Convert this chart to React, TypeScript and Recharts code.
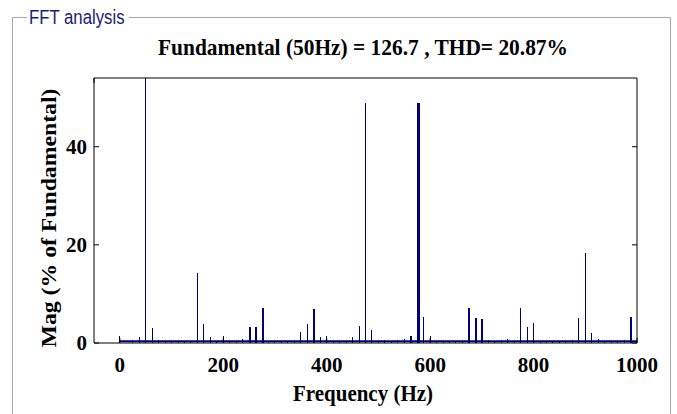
import React from 'react';
import { BarChart, Bar, XAxis, YAxis, ReferenceLine } from 'recharts';

// Spectrum bins (Hz, % of fundamental)
const frequencies = [
  0, 25, 37.5, 50, 62.5, 75, 87.5, 100, 112.5, 125, 137.5,
  150, 162.5, 175, 187.5, 200, 212.5, 225, 237.5,
  250, 252, 262.5, 264.5, 275, 277, 287.5, 300, 312.5, 325, 337.5,
  350, 362.5, 375, 377, 387.5, 400, 412.5, 425, 437.5,
  450, 462.5, 475, 487.5, 500, 512.5, 525, 537.5,
  550, 562.5, 564.5, 575, 577, 579, 587.5, 600, 612.5, 625, 637.5, 650, 662.5,
  675, 677, 687.5, 689.5, 700, 702, 712.5, 725, 737.5,
  750, 762.5, 775, 787.5, 800, 812.5, 825, 837.5, 850, 862.5, 875,
  887.5, 900, 912.5, 925, 937.5, 950, 962.5, 975, 987.5, 989.5, 1000,
];
const magnitudes = [
  1.4, 0.6, 1.2, 100, 3.0, 0.6, 0.5, 0.5, 0.4, 0.5, 0.4,
  14.2, 3.8, 1.2, 0.5, 1.4, 0.5, 0.4, 0.9,
  3.3, 3.3, 3.3, 3.3, 7.2, 7.2, 0.5, 0.4, 0.4, 0.5, 0.4,
  2.3, 3.8, 6.9, 6.9, 1.2, 1.4, 0.5, 0.4, 0.5,
  1.2, 3.5, 49.0, 2.6, 0.5, 0.6, 0.5, 0.6,
  0.8, 1.4, 1.4, 49.0, 49.0, 49.0, 5.4, 1.4, 0.4, 0.5, 0.4, 0.5, 0.4,
  7.2, 7.2, 5.0, 5.0, 4.8, 4.8, 0.6, 0.5, 0.6,
  0.8, 0.4, 7.2, 3.3, 4.1, 0.4, 0.5, 0.4, 0.4, 0.5, 0.6,
  5.0, 18.4, 2.0, 0.8, 0.4, 0.5, 0.4, 0.6, 5.4, 5.4, 0.4,
];
const noiseFloor = 0.35;

const xTicks = [0, 200, 400, 600, 800, 1000];
const yTicks = [0, 20, 40];
const xDomain = [-50, 1000];
const yDomain = [0, 54];

const title = 'Fundamental (50Hz) = 126.7 , THD= 20.87%';
const panelTitle = 'FFT analysis';
const xLabel = 'Frequency (Hz)';
const yLabel = 'Mag (% of Fundamental)';

const data = frequencies.map((f, i) => ({ f, mag: magnitudes[i] }));

const NAVY = '#00007f';
const SERIF = '"Liberation Serif", "Times New Roman", serif';

const tickStyle = { fontFamily: SERIF, fontWeight: 700, fontSize: 21, fill: '#000' };

const SpikeShape = (props: any) => {
  const { x, y, width, height } = props;
  if (!height || height <= 0) return null;
  const cx = x + width / 2;
  return <rect x={Math.round(cx - 0.5)} y={y} width={1} height={height} fill={NAVY} shapeRendering="crispEdges" />;
};

export default function App() {
  return (
    <div style={{ position: 'absolute', left: 0, top: 0, width: 677, height: 414, background: '#fff', overflow: 'hidden' }}>
      <svg width={677} height={414} style={{ position: 'absolute', left: 0, top: 0 }}>
        <line x1={12.5} y1={17.5} x2={27} y2={17.5} stroke="#a8a8a8" />
        <line x1={129} y1={17.5} x2={670.5} y2={17.5} stroke="#a8a8a8" />
        <line x1={12.5} y1={17.5} x2={12.5} y2={414} stroke="#a8a8a8" />
        <line x1={670.5} y1={17.5} x2={670.5} y2={414} stroke="#a8a8a8" />
        <text x={29} y={24} fill="#1c1c78" fontFamily='"Liberation Sans", Arial, sans-serif' fontSize={19.5}
          transform="translate(29 0) scale(0.86 1) translate(-29 0)">{panelTitle}</text>
        <text x={0} y={0} textAnchor="middle" fontFamily={SERIF} fontWeight={700} fontSize={21} fill="#000"
          transform="translate(363 55) scale(1.02 1.08)">{title}</text>
        <text x={0} y={0} textAnchor="middle" fontFamily={SERIF} fontWeight={700} fontSize={21} fill="#000"
          transform="translate(363 401) scale(1 1.08)">{xLabel}</text>
        <text x={0} y={0} textAnchor="middle" fontFamily={SERIF} fontWeight={700} fontSize={21} fill="#000"
          transform="translate(56 218) rotate(-90) scale(1.13 1)">{yLabel}</text>
      </svg>
      <div style={{ position: 'absolute', left: 0, top: 0 }}>
        <BarChart width={677} height={414} data={data} margin={{ top: 0, right: 0, bottom: 0, left: 0 }} barSize={1}>
          <XAxis xAxisId="bottom" dataKey="f" type="number" domain={xDomain} ticks={xTicks} interval={0}
            allowDataOverflow orientation="bottom" height={71} tickSize={-5} tickMargin={19}
            stroke="#000" tick={tickStyle} />
          <XAxis xAxisId="top" type="number" domain={xDomain} ticks={xTicks} interval={0}
            allowDataOverflow orientation="top" height={78} tickSize={-5} tickFormatter={() => ''}
            stroke="#000" />
          <YAxis yAxisId="left" type="number" domain={yDomain} ticks={yTicks} interval={0}
            allowDataOverflow orientation="left" width={94} tickSize={-5} tickMargin={12}
            stroke="#000" tick={tickStyle} />
          <YAxis yAxisId="right" type="number" domain={yDomain} ticks={yTicks} interval={0}
            allowDataOverflow orientation="right" width={40} tickSize={-5} tickFormatter={() => ''}
            stroke="#000" />
          <ReferenceLine xAxisId="bottom" yAxisId="left"
            segment={[{ x: 0, y: noiseFloor }, { x: 1000, y: noiseFloor }]}
            stroke={NAVY} strokeWidth={2} />
          <Bar xAxisId="bottom" yAxisId="left" dataKey="mag" fill={NAVY} isAnimationActive={false} shape={SpikeShape} />
        </BarChart>
      </div>
    </div>
  );
}
